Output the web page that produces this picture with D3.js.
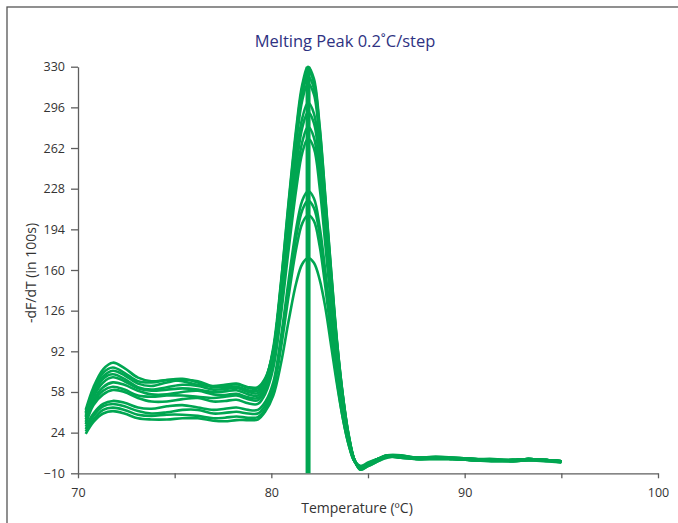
<!DOCTYPE html>
<html>
<head>
<meta charset="utf-8">
<script src="https://cdn.jsdelivr.net/npm/d3@7"></script>
<style>
  html, body { margin: 0; padding: 0; background: #fff; }
  svg { display: block; }
  .axis path, .axis line { stroke: #5e5e5e; stroke-width: 1.3; }
  .axis text { font-family: "Open Sans", sans-serif; font-size: 12.5px; fill: #333; }
</style>
</head>
<body>
<svg id="chart" width="678" height="523"></svg>
<script>
// Temperature grid (°C) shared by every melt curve
const temps = [70.4, 70.8, 71.3, 71.8, 72.4, 73.1, 73.8, 74.6, 75.4, 76.2, 77.0, 77.6, 78.2, 78.8, 79.3,
  79.7, 80.1, 80.5, 80.9, 81.3, 81.6, 81.9, 82.2, 82.5, 82.8, 83.1, 83.4, 83.7, 84.0, 84.3, 84.6,
  85.0, 85.5, 86.0, 86.7, 87.5, 88.5, 89.5, 90.5, 91.5, 92.5, 93.3, 94.2, 95.0];

// -dF/dT (in 100s) for each reaction
const run1 = [43, 62, 77, 82.5, 78, 70, 67, 68, 67, 64, 63, 64, 65, 62, 62,
  70, 92, 140, 200, 256, 287, 300, 291, 255, 200, 144, 91, 50, 20, 1, -6,
  -3, 1, 4, 4, 2, 3, 2, 1, 1, 1, 2, 1, 0];
const run2 = [41, 60, 74, 78.5, 74, 67, 66, 68, 69, 66, 62, 63, 64.5, 61.5, 61,
  69, 93, 145, 210, 268, 302, 316, 307, 268, 211, 151, 96, 53, 21, 1, -6,
  -2, 2, 5, 5, 3, 3, 3, 2, 1, 1, 2, 1, 0];
const run3 = [40, 58, 71, 75.8, 72, 65, 63, 66, 68, 67, 62.5, 62, 62.5, 59.5, 59,
  68, 95, 150, 218, 280, 315, 330, 320, 280, 220, 158, 100, 55, 22, 1, -7,
  -4, 0, 4, 4, 2, 2, 2, 1, 0, 0, 1, 1, -1];
const run4 = [38, 56, 69, 72.8, 69, 62, 60, 62, 64, 63, 60, 60.5, 61.5, 58, 57,
  66, 92, 146, 212, 273, 307, 322, 312, 273, 215, 154, 98, 54, 21, 1, -6,
  -3, 1, 5, 4, 3, 3, 2, 2, 1, 1, 2, 1, 0];
const run5 = [37, 54, 66, 70.3, 67, 61, 59, 60, 61, 60, 58, 58.5, 59.5, 56, 55,
  63, 85, 134, 194, 248, 279, 292, 283, 248, 195, 140, 89, 49, 19, 1, -5,
  -3, 1, 4, 3, 2, 3, 2, 1, 1, 1, 1, 1, 0];
const run6 = [35, 51, 62, 66, 64, 59, 56, 56, 58, 59, 56, 55.5, 56.5, 53.5, 53,
  62, 90, 148, 216, 277, 312, 327, 317, 278, 218, 157, 99, 55, 22, 1, -7,
  -4, 0, 3, 4, 2, 2, 2, 1, 1, 0, 1, 0, -1];
const run7 = [33, 49, 59, 62.4, 60, 55, 54, 55, 55, 54, 53, 54, 55, 52, 51,
  60, 81, 127, 185, 237, 267, 280, 271, 237, 187, 134, 85, 47, 19, 1, -5,
  -2, 2, 5, 5, 3, 4, 3, 2, 2, 1, 2, 1, 0];
const run8 = [31, 47, 56, 59.7, 58, 53, 50, 50, 52, 53, 50, 50.5, 51.5, 48.5, 48,
  57, 78, 123, 178, 229, 258, 270, 262, 229, 180, 129, 82, 45, 18, 1, -5,
  -3, 1, 4, 4, 3, 3, 2, 2, 1, 1, 2, 1, 0];
const run9 = [29, 40, 48, 50.5, 49, 45, 44, 46, 47, 45, 43, 44, 45, 43, 43,
  50, 66, 104, 152, 196, 218, 226, 220, 196, 158, 115, 74, 40, 16, 0, -5,
  -2, 2, 5, 4, 3, 3, 3, 2, 1, 1, 2, 1, 0];
const run10 = [27, 38, 46, 48, 46, 42, 40, 41, 43, 43, 40, 40.5, 41.5, 40, 40,
  47, 63, 100, 146, 189, 210, 218, 212, 190, 153, 111, 71, 38, 15, 0, -5,
  -3, 1, 4, 3, 2, 2, 2, 1, 1, 1, 1, 1, 0];
const run11 = [25, 35, 43, 44.9, 43, 39, 38, 39, 39, 38, 36, 36.5, 37.5, 36.5, 37,
  44, 60, 95, 139, 179, 199, 206, 201, 180, 145, 105, 67, 36, 14, 0, -4,
  -2, 2, 4, 4, 3, 3, 2, 2, 1, 1, 2, 1, 0];
const run12 = [23, 33, 40, 42, 40, 36, 35, 35, 36, 36, 34, 33.5, 34.5, 34.5, 35,
  42, 55, 82, 118, 150, 165, 170, 166, 152, 128, 96, 64, 36, 14, 0, -4,
  -1, 2, 4, 4, 3, 3, 2, 1, 1, 1, 2, 1, 0];

const runs = [run1, run2, run3, run4, run5, run6, run7, run8, run9, run10, run11, run12];

// Melting temperature marker
const meltTemp = 81.9;
const meltPeak = 330;

// Axis ticks
const xTicks = [70, 75, 80, 85, 90, 95, 100];
const xTickLabels = [70, 80, 90, 100];
const yTicks = [-10, 24, 58, 92, 126, 160, 194, 228, 262, 296, 330];

const svg = d3.select("#chart");
const green = "#00a651";

// outer frame
svg.append("rect")
  .attr("x", 7).attr("y", 7).attr("width", 700).attr("height", 540)
  .attr("fill", "none").attr("stroke", "#555").attr("stroke-width", 1.3);

const x = d3.scaleLinear().domain([70, 100]).range([78, 658]);
const y = d3.scaleLinear().domain([-10, 330]).range([473.3, 66.7]);

svg.append("g").attr("class", "axis")
  .attr("transform", `translate(0,${y(-10)})`)
  .call(d3.axisBottom(x).tickValues(xTicks).tickSize(5).tickSizeOuter(0).tickPadding(10)
    .tickFormat(d => xTickLabels.includes(d) ? d : ""));

svg.append("g").attr("class", "axis")
  .attr("transform", `translate(${x(70)},0)`)
  .call(d3.axisLeft(y).tickValues(yTicks).tickSize(7).tickSizeOuter(0).tickPadding(6));

// melt curves
const line = d3.line()
  .x((d, i) => x(temps[i]))
  .y(d => y(d))
  .curve(d3.curveCatmullRom.alpha(0.5));

svg.append("g")
  .selectAll("path")
  .data(runs)
  .join("path")
  .attr("d", line)
  .attr("fill", "none")
  .attr("stroke", green)
  .attr("stroke-width", 2.6)
  .attr("stroke-linejoin", "round");

// Tm marker
svg.append("line")
  .attr("x1", x(meltTemp)).attr("x2", x(meltTemp))
  .attr("y1", y(-10)).attr("y2", y(meltPeak))
  .attr("stroke", green).attr("stroke-width", 5);

// titles
svg.append("text")
  .attr("x", 345).attr("y", 47)
  .attr("text-anchor", "middle")
  .style("font-family", "'Open Sans', sans-serif")
  .style("font-size", "16.5px")
  .attr("fill", "#2e3282")
  .text("Melting Peak 0.2˚C/step");

svg.append("text")
  .attr("x", 357).attr("y", 513)
  .attr("text-anchor", "middle")
  .style("font-family", "'Open Sans', sans-serif")
  .style("font-size", "14px")
  .attr("fill", "#333")
  .text("Temperature (ºC)");

svg.append("text")
  .attr("transform", "translate(36,273) rotate(-90)")
  .attr("text-anchor", "middle")
  .style("font-family", "'Open Sans', sans-serif")
  .style("font-size", "14px")
  .attr("fill", "#333")
  .text("-dF/dT (in 100s)");
</script>
</body>
</html>
